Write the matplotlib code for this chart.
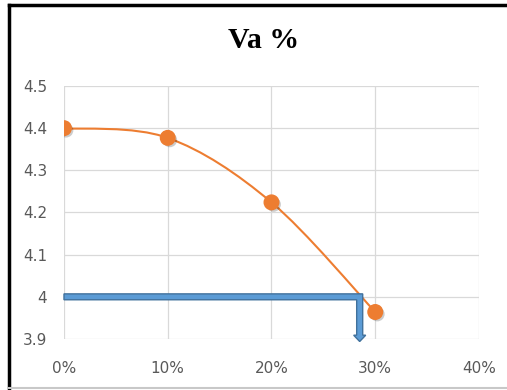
import numpy as np
import matplotlib.pyplot as plt
from matplotlib.path import Path
from matplotlib.patches import PathPatch, Polygon
from matplotlib.lines import Line2D
import matplotlib.patheffects as pe
from matplotlib.ticker import FuncFormatter

# Va values against percentage
pct = [0.0, 0.10, 0.20, 0.30]
va = [4.40, 4.377, 4.224, 3.964]

x_ticks = [0.0, 0.10, 0.20, 0.30, 0.40]
y_ticks = [3.9, 4.0, 4.1, 4.2, 4.3, 4.4, 4.5]

# read-off arrow: from Va = 4.0 across to the curve, then down to the axis
arrow_va = 4.0
arrow_pct = 0.285

orange = "#ED7D31"
grey_txt = "#595959"
grid_col = "#D9D9D9"

fig = plt.figure(figsize=(5.07, 3.9), dpi=100)
ax = fig.add_axes([0.1262, 0.1308, 0.8186, 0.6487])

# smooth curve through the points (cubic Bezier, Excel style)
pts = np.column_stack([pct, va])
ext = np.vstack([pts[0], pts, pts[-1]])
verts = [tuple(pts[0])]
codes = [Path.MOVETO]
for i in range(len(pts) - 1):
    p0, p1, p2, p3 = ext[i], ext[i + 1], ext[i + 2], ext[i + 3]
    c1 = p1 + (p2 - p0) / 6.0
    c2 = p2 - (p3 - p1) / 6.0
    verts += [tuple(c1), tuple(c2), tuple(p2)]
    codes += [Path.CURVE4] * 3
curve = PathPatch(Path(verts, codes), fill=False, edgecolor=orange, lw=1.5, zorder=3)
ax.add_patch(curve)

ax.plot(pct, va, "o", color=orange, markersize=10.5, zorder=4,
        path_effects=[pe.SimplePatchShadow(offset=(1.5, -1.5), alpha=0.2, shadow_rgbFace="k"),
                      pe.Normal()])

# bent block arrow
hx, hy = 0.0029, 0.0070
headx, base_y, tip_y = 0.0058, 3.909, 3.894
arrow = Polygon([
    (0.0, arrow_va + hy), (arrow_pct + hx, arrow_va + hy), (arrow_pct + hx, base_y),
    (arrow_pct + headx, base_y), (arrow_pct, tip_y), (arrow_pct - headx, base_y),
    (arrow_pct - hx, base_y), (arrow_pct - hx, arrow_va - hy), (0.0, arrow_va - hy)],
    closed=True, facecolor="#5B9BD5", edgecolor="#41719C", lw=1.0, zorder=5, clip_on=False)
ax.add_patch(arrow)

ax.set_xlim(0, 0.40)
ax.set_ylim(3.9, 4.5)
ax.set_xticks(x_ticks)
ax.set_yticks(y_ticks)
ax.xaxis.set_major_formatter(FuncFormatter(lambda v, p: f"{v*100:.0f}%"))
ax.yaxis.set_major_formatter(FuncFormatter(lambda v, p: f"{v:g}"))
ax.grid(True, color=grid_col, lw=0.9)
ax.set_axisbelow(True)
for s in ax.spines.values():
    s.set_visible(False)
ax.tick_params(length=0, labelsize=11, labelcolor=grey_txt)
ax.tick_params(axis="x", pad=16)
ax.tick_params(axis="y", pad=12)

fig.text(0.519, 0.895, "Va %", ha="center", va="center", fontsize=21.5,
         fontweight="bold", family="Liberation Serif")

# chart area border
fig.add_artist(Line2D([0.0178, 0.0178], [0.0, 0.987], color="black", lw=2.5))
fig.add_artist(Line2D([0.0178, 1.0], [0.987, 0.987], color="black", lw=2.5))
fig.add_artist(Line2D([0.0178, 1.0], [0.006, 0.006], color="#C8C8C8", lw=1.5))

fig.savefig("out.png", dpi=100, facecolor="white")
